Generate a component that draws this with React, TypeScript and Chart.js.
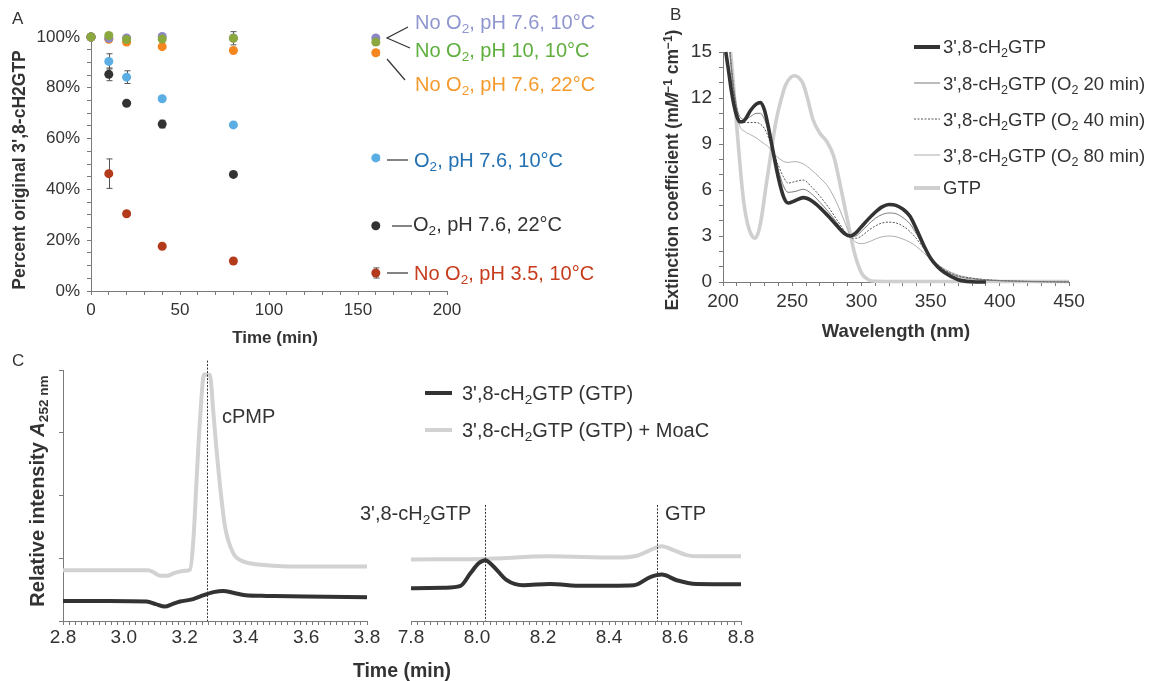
import React, { useEffect, useRef } from 'react';
import { Chart, registerables } from 'chart.js';
Chart.register(...registerables);

const FONT = '"Liberation Sans", Arial, Helvetica, sans-serif';
Chart.defaults.font.family = FONT;

// ---------- Panel A data ----------
const aTime = [0, 10, 20, 40, 80, 160];
const aNames = ['No O_{2}, pH 10, 10°C', 'No O_{2}, pH 7.6, 10°C', 'No O_{2}, pH 7.6, 22°C', 'O_{2}, pH 7.6, 10°C', 'O_{2}, pH 7.6, 22°C', 'No O_{2}, pH 3.5, 10°C'];
const aGreen = [100, 100.6, 99, 99.2, 99.5, 98];
const aLavender = [100, 99.5, 99.6, 100.2, 99.6, 99.6];
const aOrange = [100, 99.1, 98, 96.2, 94.7, 93.8];
const aBlue = [100, 90.4, 84.2, 75.7, 65.4, 52.4];
const aBlack = [100, 85.3, 73.9, 65.7, 45.9, 25.7];
const aRed = [100, 46.2, 30.4, 17.6, 11.8, 7.1];
const aErrGreen = [0, 0.6, 0.6, 0.6, 2.6, 1.0];
const aErrLavender = [0, 0.5, 0.5, 0.5, 0.5, 0.5];
const aErrOrange = [0, 0.5, 0.5, 0.6, 0.5, 1.0];
const aErrBlue = [0, 3.0, 2.5, 0.6, 0.6, 1.0];
const aErrBlack = [0, 2.5, 0.6, 1.5, 0.6, 0.6];
const aErrRed = [0, 5.8, 0.6, 0.6, 0.6, 2.0];
const aPointColors = ['#8aa83e', '#8c87c6', '#f5861f', '#5aaee3', '#333333', '#b43a1c'];
const aTextColors = ['#5fae3e', '#8f96cf', '#f59b2e', '#2271b3', '#333333', '#c63c1c'];

// ---------- Panel B data ----------
const bNames = ["3',8-cH_{2}GTP", "3',8-cH_{2}GTP (O_{2} 20 min)", "3',8-cH_{2}GTP (O_{2} 40 min)", "3',8-cH_{2}GTP (O_{2} 80 min)", 'GTP'];
const bWaveMain = [202, 204, 206, 208, 210, 212, 214, 216, 220, 224, 227, 230, 233, 236, 240, 244, 247, 252, 258, 264, 270, 276, 282, 288, 292, 296, 300, 305, 310, 315, 320, 325, 330, 335, 340, 345, 350, 355, 360, 370, 380, 390];
const bMain = [15, 13.8, 12.5, 11.5, 10.8, 10.45, 10.45, 10.6, 11.2, 11.6, 11.7, 11.2, 10.0, 8.6, 6.8, 5.5, 5.15, 5.3, 5.5, 5.3, 4.85, 4.3, 3.7, 3.15, 3.0, 3.2, 3.6, 4.1, 4.55, 4.9, 5.05, 5.0, 4.75, 4.3, 3.4, 2.4, 1.55, 1.0, 0.62, 0.15, 0.02, 0];
const bWaveO2 = [205, 208, 212, 216, 220, 224, 227, 230, 233, 236, 240, 244, 247, 252, 258, 264, 270, 276, 282, 288, 292, 296, 300, 305, 310, 315, 320, 325, 330, 335, 340, 345, 350, 355, 360, 370, 380, 390, 400, 420, 450];
const bO2min20 = [15, 12.5, 10.8, 10.6, 10.8, 11.0, 11.0, 10.6, 9.8, 8.7, 7.3, 6.2, 5.85, 5.9, 6.05, 5.75, 5.2, 4.6, 3.9, 3.2, 2.95, 3.0, 3.3, 3.75, 4.15, 4.4, 4.5, 4.45, 4.2, 3.8, 3.1, 2.3, 1.6, 1.1, 0.75, 0.35, 0.2, 0.12, 0.08, 0.03, 0];
const bO2min40 = [15, 12.3, 10.6, 10.4, 10.4, 10.4, 10.3, 10.0, 9.4, 8.6, 7.6, 6.8, 6.45, 6.55, 6.65, 6.2, 5.6, 4.9, 4.1, 3.3, 2.9, 2.85, 3.0, 3.35, 3.65, 3.85, 3.9, 3.85, 3.65, 3.3, 2.8, 2.2, 1.6, 1.15, 0.8, 0.4, 0.25, 0.15, 0.1, 0.04, 0];
const bO2min80 = [15, 12.0, 10.2, 9.8, 9.6, 9.4, 9.2, 9.0, 8.8, 8.4, 8.1, 7.85, 7.8, 7.85, 7.7, 7.3, 6.8, 6.2, 5.2, 3.9, 3.0, 2.6, 2.5, 2.6, 2.8, 2.95, 3.0, 2.95, 2.8, 2.6, 2.3, 1.9, 1.5, 1.15, 0.85, 0.45, 0.25, 0.15, 0.1, 0.04, 0];
const bWaveGtp = [205.5, 207, 209, 211, 213, 215, 217, 219, 221, 223, 225, 227, 229, 231, 233, 235, 237, 239, 242, 245, 249, 252, 255, 258, 261, 265, 270, 275, 280, 285, 290, 295, 300, 305, 310, 350, 400, 450];
const bGtp = [15, 13.5, 11.2, 9.0, 6.9, 5.2, 4.1, 3.4, 3.0, 2.85, 3.1, 3.8, 4.9, 6.2, 7.4, 8.6, 9.8, 10.8, 11.9, 12.8, 13.35, 13.45, 13.3, 12.9, 12.0, 10.6, 9.7, 9.15, 8.2, 6.2, 4.0, 1.9, 0.6, 0.15, 0.05, 0.03, 0.03, 0.03];

// ---------- Panel C data ----------
const cNames = ["3',8-cH_{2}GTP (GTP)", "3',8-cH_{2}GTP (GTP) + MoaC"];
const cLeftBlackT = [2.80, 2.95, 3.075, 3.105, 3.135, 3.16, 3.185, 3.22, 3.25, 3.295, 3.327, 3.36, 3.40, 3.47, 3.6, 3.8];
const cLeftBlack = [0.32, 0.32, 0.31, 0.27, 0.23, 0.27, 0.31, 0.34, 0.39, 0.46, 0.48, 0.45, 0.41, 0.40, 0.39, 0.38];
const cLeftGrayT = [2.80, 2.95, 3.08, 3.10, 3.12, 3.14, 3.17, 3.20, 3.218, 3.229, 3.24, 3.25, 3.264, 3.283, 3.295, 3.305, 3.32, 3.333, 3.36, 3.393, 3.47, 3.58, 3.80];
const cLeftGray = [0.81, 0.81, 0.81, 0.77, 0.72, 0.72, 0.77, 0.80, 0.82, 1.3, 2.3, 3.15, 3.93, 3.92, 3.3, 2.73, 2.0, 1.5, 1.08, 0.95, 0.89, 0.87, 0.87];
const cRightBlackT = [7.80, 7.90, 7.95, 7.98, 8.005, 8.025, 8.05, 8.09, 8.14, 8.22, 8.32, 8.475, 8.525, 8.56, 8.605, 8.665, 8.80];
const cRightBlack = [0.52, 0.53, 0.56, 0.76, 0.92, 0.97, 0.87, 0.65, 0.57, 0.59, 0.56, 0.57, 0.70, 0.74, 0.65, 0.59, 0.585];
const cRightGrayT = [7.80, 8.02, 8.22, 8.42, 8.485, 8.525, 8.56, 8.595, 8.635, 8.675, 8.80];
const cRightGray = [0.98, 0.99, 1.03, 1.01, 1.04, 1.13, 1.19, 1.13, 1.05, 1.03, 1.03];
const cMarkLeftX = [3.275];
const cMarkLeftTop = [4.15];
const cMarkRightX = [8.025, 8.545];
const cMarkRightTop = [1.85, 1.85];
const cPeakLabels = ['cPMP', "3',8-cH_{2}GTP", 'GTP'];

const pts = (xs: number[], ys: number[]) => xs.map((x, i) => ({ x, y: ys[i] }));

function rich(s: string): React.ReactNode[] {
  const out: React.ReactNode[] = [];
  const re = /([_^~])\{([^}]*)\}/g;
  let last = 0;
  let m: RegExpExecArray | null;
  let k = 0;
  while ((m = re.exec(s))) {
    if (m.index > last) out.push(s.slice(last, m.index));
    const t = m[2];
    if (m[1] === '_') out.push(<sub key={k++} style={{ fontSize: '0.68em', verticalAlign: '-0.32em', lineHeight: 0 }}>{t}</sub>);
    else if (m[1] === '^') out.push(<sup key={k++} style={{ fontSize: '0.68em', verticalAlign: '0.5em', lineHeight: 0 }}>{t}</sup>);
    else out.push(<i key={k++}>{t}</i>);
    last = re.lastIndex;
  }
  if (last < s.length) out.push(s.slice(last));
  return out;
}

type TxtProps = { x: number; cy: number; size: number; color?: string; bold?: boolean; anchor?: 'start' | 'middle'; rotate?: boolean; text: string };
function Txt({ x, cy, size, color = '#333', bold = false, anchor = 'start', rotate = false, text }: TxtProps) {
  const base: React.CSSProperties = {
    position: 'absolute', whiteSpace: 'nowrap', fontSize: size, lineHeight: 1.2, color,
    fontWeight: bold ? 'bold' : 'normal', fontFamily: FONT,
  };
  if (rotate) {
    return <div style={{ ...base, left: x, top: cy, transform: 'translate(-50%,-50%) rotate(-90deg)' }}>{rich(text)}</div>;
  }
  return <div style={{ ...base, left: x, top: cy - size * 0.6, transform: anchor === 'middle' ? 'translateX(-50%)' : undefined }}>{rich(text)}</div>;
}

function ChartBox({ left, top, width, height, make }: { left: number; top: number; width: number; height: number; make: () => any }) {
  const ref = useRef<HTMLCanvasElement>(null);
  useEffect(() => {
    const chart = new Chart(ref.current as HTMLCanvasElement, make());
    return () => chart.destroy();
  }, []);
  return <canvas ref={ref} width={width} height={height} style={{ position: 'absolute', left, top, width, height }} />;
}

const axisCommon = (size: number, pad: number) => ({
  type: 'linear' as const,
  grid: { drawOnChartArea: false, drawTicks: true, tickLength: 4, color: '#7a7a7a', lineWidth: 1 },
  border: { display: true, color: '#7a7a7a', width: 1 },
  ticks: { autoSkip: false, maxRotation: 0, minRotation: 0, padding: pad, color: '#333', font: { size, family: FONT } },
});

function makeA() {
  const series = [aGreen, aLavender, aOrange, aBlue, aBlack, aRed];
  const errs = [aErrGreen, aErrLavender, aErrOrange, aErrBlue, aErrBlack, aErrRed];
  const errPlugin = {
    id: 'errbarsA',
    beforeDatasetsDraw(chart: any) {
      const { ctx } = chart;
      const x = chart.scales.x, y = chart.scales.y;
      ctx.save();
      ctx.strokeStyle = '#555';
      ctx.lineWidth = 1;
      series.forEach((vals, i) => {
        vals.forEach((v, j) => {
          const e = errs[i][j];
          if (!e) return;
          const px = Math.round(x.getPixelForValue(aTime[j])) + 0.5;
          const y1 = y.getPixelForValue(v + e), y2 = y.getPixelForValue(v - e);
          ctx.beginPath();
          ctx.moveTo(px, y1); ctx.lineTo(px, y2);
          ctx.moveTo(px - 3, y1); ctx.lineTo(px + 3, y1);
          ctx.moveTo(px - 3, y2); ctx.lineTo(px + 3, y2);
          ctx.stroke();
        });
      });
      ctx.restore();
    },
  };
  const xa = axisCommon(17, 5);
  const ya = axisCommon(17, 7);
  return {
    type: 'scatter',
    data: {
      datasets: series.map((vals, i) => ({
        label: aNames[i], data: pts(aTime, vals), backgroundColor: aPointColors[i], borderColor: aPointColors[i],
        pointRadius: 4.5, pointBorderWidth: 0, showLine: false, clip: false,
      })),
    },
    options: {
      animation: false, responsive: false, events: [],
      layout: { padding: { top: 37, right: 23, left: 0, bottom: 0 } },
      plugins: { legend: { display: false }, tooltip: { enabled: false } },
      scales: {
        x: { ...xa, min: 0, max: 200, afterFit: (s: any) => { s.height = 29; },
          ticks: { ...xa.ticks, stepSize: 10, callback: (v: number) => (v % 50 === 0 ? String(v) : '') } },
        y: { ...ya, min: 0, max: 100, afterFit: (s: any) => { s.width = 91; },
          ticks: { ...ya.ticks, stepSize: 5, callback: (v: number) => (v % 20 === 0 ? v + '%' : '') } },
      },
    },
    plugins: [errPlugin],
  };
}

function makeB() {
  const xa = axisCommon(19, 4);
  const ya = axisCommon(19, 7);
  const styles = [
    { c: '#333333', w: 3.6, d: [] as number[] },
    { c: '#7a7a7a', w: 1, d: [] as number[] },
    { c: '#555555', w: 1, d: [2, 1.5] },
    { c: '#adadad', w: 1, d: [] as number[] },
    { c: '#cfcfcf', w: 3.6, d: [] as number[] },
  ];
  const sets = [pts(bWaveMain, bMain), pts(bWaveO2, bO2min20), pts(bWaveO2, bO2min40), pts(bWaveO2, bO2min80), pts(bWaveGtp, bGtp)];
  return {
    type: 'line',
    data: {
      datasets: sets.map((d, i) => ({
        label: bNames[i], data: d, borderColor: styles[i].c, borderWidth: styles[i].w, borderDash: styles[i].d,
        pointRadius: 0, fill: false, cubicInterpolationMode: 'monotone', clip: false,
      })),
    },
    options: {
      animation: false, responsive: false, events: [],
      layout: { padding: { top: 52, right: 86, left: 0, bottom: 0 } },
      plugins: { legend: { display: false }, tooltip: { enabled: false } },
      scales: {
        x: { ...xa, min: 200, max: 450, afterFit: (s: any) => { s.height = 38; },
          ticks: { ...xa.ticks, stepSize: 10, callback: (v: number) => (v % 50 === 0 ? String(v) : '') } },
        y: { ...ya, min: 0, max: 15, afterFit: (s: any) => { s.width = 40; },
          ticks: { ...ya.ticks, stepSize: 1, callback: (v: number) => (v % 3 === 0 ? String(v) : '') } },
      },
    },
  };
}

function makeC(side: 'left' | 'right') {
  const isLeft = side === 'left';
  const xa = axisCommon(19, 1);
  const ya = axisCommon(19, 4);
  const black = isLeft ? pts(cLeftBlackT, cLeftBlack) : pts(cRightBlackT, cRightBlack);
  const gray = isLeft ? pts(cLeftGrayT, cLeftGray) : pts(cRightGrayT, cRightGray);
  const mx = isLeft ? cMarkLeftX : cMarkRightX;
  const mt = isLeft ? cMarkLeftTop : cMarkRightTop;
  const markPlugin = {
    id: 'marks' + side,
    afterDatasetsDraw(chart: any) {
      const { ctx } = chart;
      const x = chart.scales.x, y = chart.scales.y;
      ctx.save();
      ctx.strokeStyle = '#333';
      ctx.lineWidth = 1;
      ctx.setLineDash([2, 1.5]);
      mx.forEach((v, i) => {
        const px = Math.round(x.getPixelForValue(v)) + 0.5;
        ctx.beginPath();
        ctx.moveTo(px, y.getPixelForValue(mt[i]));
        ctx.lineTo(px, y.getPixelForValue(0));
        ctx.stroke();
      });
      ctx.restore();
    },
  };
  const min = isLeft ? 2.8 : 7.8;
  return {
    type: 'line',
    data: {
      datasets: [
        { label: cNames[0], data: black, borderColor: '#333333', borderWidth: 4, pointRadius: 0, cubicInterpolationMode: 'monotone', clip: false },
        { label: cNames[1], data: gray, borderColor: '#d2d2d2', borderWidth: 4, pointRadius: 0, cubicInterpolationMode: 'monotone', clip: false },
      ],
    },
    options: {
      animation: false, responsive: false, events: [],
      layout: { padding: { top: 25, right: isLeft ? 23 : 39, left: 0, bottom: 0 } },
      plugins: { legend: { display: false }, tooltip: { enabled: false } },
      scales: {
        x: { ...xa, min, max: min + 1, afterFit: (s: any) => { s.height = 44; },
          ticks: { ...xa.ticks, stepSize: 0.02,
            callback: (v: number) => (Math.abs(v * 5 - Math.round(v * 5)) < 1e-6 ? v.toFixed(1) : '') } },
        y: { ...ya, display: isLeft, min: 0, max: 4, afterFit: (s: any) => { s.width = isLeft ? 63 : 21; },
          ticks: { ...ya.ticks, stepSize: 1, callback: () => '' } },
      },
    },
    plugins: [markPlugin],
  };
}

export default function App() {
  const L = '#333';
  return (
    <div style={{ position: 'absolute', left: 0, top: 0, width: 1155, height: 681, background: '#fff', fontFamily: FONT, overflow: 'hidden' }}>
      <ChartBox left={0} top={0} width={470} height={320} make={makeA} />
      <ChartBox left={683} top={0} width={472} height={320} make={makeB} />
      <ChartBox left={0} top={345} width={390} height={320} make={() => makeC('left')} />
      <ChartBox left={390} top={345} width={390} height={320} make={() => makeC('right')} />

      <svg width={1155} height={681} style={{ position: 'absolute', left: 0, top: 0, pointerEvents: 'none' }}>
        {/* Panel A label connectors */}
        <g stroke={L} strokeWidth={1.2} fill="none">
          <polyline points="408,27 387,38 410,48" />
          <line x1={387} y1={59} x2={405} y2={80} />
          <line x1={387} y1={160} x2={408} y2={160} />
          <line x1={392} y1={226} x2={412} y2={226} />
          <line x1={387} y1={273} x2={408} y2={273} />
        </g>
        {/* Panel B legend samples */}
        <line x1={914} y1={47} x2={940} y2={47} stroke="#333" strokeWidth={4} />
        <line x1={914} y1={83} x2={940} y2={83} stroke="#7a7a7a" strokeWidth={1} />
        <line x1={914} y1={119} x2={940} y2={119} stroke="#555" strokeWidth={1} strokeDasharray="2 1.5" />
        <line x1={914} y1={155} x2={940} y2={155} stroke="#adadad" strokeWidth={1} />
        <line x1={914} y1={188} x2={940} y2={188} stroke="#cfcfcf" strokeWidth={4} />
        {/* Panel C legend samples */}
        <line x1={425} y1={393} x2={452} y2={393} stroke="#333" strokeWidth={4} />
        <line x1={425} y1={430} x2={452} y2={430} stroke="#d2d2d2" strokeWidth={4} />
      </svg>

      {/* Panel letters */}
      <Txt x={12} cy={19} size={17} text="A" />
      <Txt x={670} cy={15} size={17} text="B" />
      <Txt x={12} cy={361} size={17} text="C" />

      {/* Panel A texts */}
      <Txt x={19} cy={170} size={17.5} bold rotate text="Percent original 3',8-cH2GTP" />
      <Txt x={275} cy={338} size={17} bold anchor="middle" text="Time (min)" />
      <Txt x={415} cy={22} size={20} color={aTextColors[1]} text={aNames[1]} />
      <Txt x={415} cy={50} size={20} color={aTextColors[0]} text={aNames[0]} />
      <Txt x={415} cy={84} size={20} color={aTextColors[2]} text={aNames[2]} />
      <Txt x={414} cy={160} size={20} color={aTextColors[3]} text={aNames[3]} />
      <Txt x={413} cy={224} size={20} color={aTextColors[4]} text={aNames[4]} />
      <Txt x={414} cy={273} size={20} color={aTextColors[5]} text={aNames[5]} />

      {/* Panel B texts */}
      <Txt x={672} cy={170} size={17.5} bold rotate text="Extinction coefficient (m~{M}^{−1} cm^{−1})" />
      <Txt x={896} cy={331} size={18.5} bold anchor="middle" text="Wavelength (nm)" />
      <Txt x={943} cy={47} size={18.5} text={bNames[0]} />
      <Txt x={943} cy={84} size={18.5} text={bNames[1]} />
      <Txt x={943} cy={120} size={18.5} text={bNames[2]} />
      <Txt x={943} cy={156} size={18.5} text={bNames[3]} />
      <Txt x={943} cy={188} size={18.5} text={bNames[4]} />

      {/* Panel C texts */}
      <Txt x={37} cy={491} size={20} bold rotate text="Relative intensity ~{A}_{252 nm}" />
      <Txt x={402} cy={671} size={19.5} bold anchor="middle" text="Time (min)" />
      <Txt x={462} cy={393} size={20} text={cNames[0]} />
      <Txt x={462} cy={430} size={20} text={cNames[1]} />
      <Txt x={222} cy={416} size={20} text={cPeakLabels[0]} />
      <Txt x={360} cy={513} size={20} text={cPeakLabels[1]} />
      <Txt x={665} cy={513} size={20} text={cPeakLabels[2]} />
    </div>
  );
}
